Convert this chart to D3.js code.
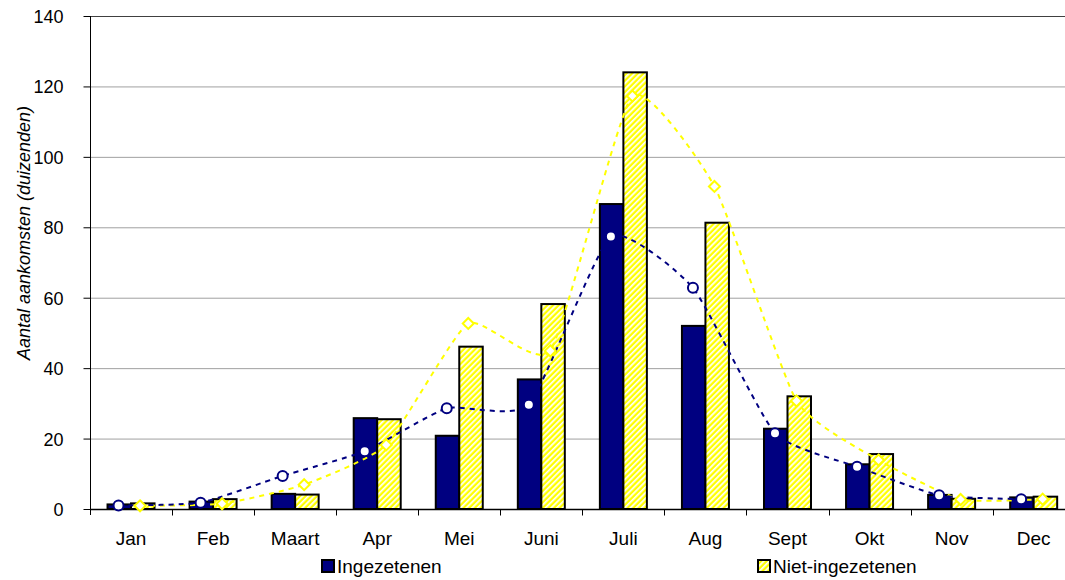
<!DOCTYPE html>
<html><head><meta charset="utf-8">
<script src="https://cdn.jsdelivr.net/npm/d3@7"></script>
<style>
html,body{margin:0;padding:0;background:#fff;}
svg{display:block;font-family:"Liberation Sans",Arial,sans-serif;}
</style></head>
<body>
<svg id="c" width="1065" height="580"></svg>
<script>
const months = ["Jan","Feb","Maart","Apr","Mei","Juni","Juli","Aug","Sept","Okt","Nov","Dec"];
const ingezetenenBars = [1.3,2.1,4.3,25.8,20.8,36.8,86.6,52.0,22.8,12.7,4.0,3.3];
const nietIngezetenenBars = [1.6,2.8,4.1,25.5,46.1,58.2,124.0,81.3,32.0,15.6,2.9,3.5];
const ingezetenenLine = [1.0,1.8,9.4,16.4,28.6,29.6,77.4,62.8,21.5,12.0,3.9,2.8];
const nietIngezetenenLine = [0.9,1.5,6.9,18.2,52.7,44.9,117.3,91.6,30.7,13.9,2.7,2.8];
const yTicks = [0,20,40,60,80,100,120,140];
const seriesNames = ["Ingezetenen","Niet-ingezetenen"];

(function(){
const navy = "#000080", yellow = "#FFFF00";
const svg = d3.select("#c");
const pLeft = 90, pRight = 1074.7, pTop = 16, pBottom = 509;

const x = d3.scaleBand().domain(months).range([pLeft, pRight]).padding(0);
const y = d3.scaleLinear().domain([0,140]).range([pBottom, pTop]);

const defs = svg.append("defs");
const pat = defs.append("pattern").attr("id","hatch").attr("patternUnits","userSpaceOnUse")
  .attr("width",4).attr("height",4).attr("patternTransform","rotate(45)");
pat.append("rect").attr("width",4).attr("height",4).attr("fill",yellow);
pat.append("rect").attr("x",0).attr("width",1.7).attr("height",4).attr("fill","#fff");

svg.append("g").selectAll("line").data(yTicks.filter(d=>d>0)).join("line")
  .attr("x1",pLeft).attr("x2",1065).attr("y1",d=>y(d)+0.5).attr("y2",d=>y(d)+0.5)
  .attr("stroke",d=>d===140?"#404040":"#a0a0a0").attr("stroke-width",1);

const bw = 23.5;
const cx = m => x(m) + x.bandwidth()/2;
svg.append("g").selectAll("rect").data(months).join("rect")
  .attr("x",m=>cx(m)-bw).attr("width",bw)
  .attr("y",(m,i)=>y(ingezetenenBars[i])).attr("height",(m,i)=>pBottom-y(ingezetenenBars[i]))
  .attr("fill",navy).attr("stroke","#000").attr("stroke-width",2);
svg.append("g").selectAll("rect").data(months).join("rect")
  .attr("x",m=>cx(m)).attr("width",bw)
  .attr("y",(m,i)=>y(nietIngezetenenBars[i])).attr("height",(m,i)=>pBottom-y(nietIngezetenenBars[i]))
  .attr("fill","url(#hatch)").attr("stroke","#000").attr("stroke-width",2);

const yAxis = d3.axisLeft(y).tickValues(yTicks).tickSize(7).tickPadding(20).tickFormat(d3.format("d"));
const gy = svg.append("g").attr("transform",`translate(${pLeft+0.5},0)`).call(yAxis);
gy.select(".domain").attr("stroke","#000").attr("d",`M0,${pTop}V${pBottom+6}`);
gy.selectAll(".tick line").attr("stroke","#000");
gy.selectAll(".tick text").attr("font-size",18).attr("fill","#000").attr("font-family","Liberation Sans, Arial, sans-serif")
  .attr("x",-27).attr("dy","0.36em");

const gx = svg.append("g").attr("transform",`translate(0,${pBottom+0.5})`);
gx.append("line").attr("x1",pLeft).attr("x2",1065).attr("y1",0).attr("y2",0).attr("stroke","#000").attr("stroke-width",1.5);
gx.selectAll("line.t").data(months.slice(1)).join("line").attr("class","t")
  .attr("x1",m=>Math.round(x(m))+0.5).attr("x2",m=>Math.round(x(m))+0.5).attr("y1",0).attr("y2",6).attr("stroke","#000");
gx.selectAll("text").data(months).join("text")
  .attr("x",cx).attr("y",35.5).attr("text-anchor","middle").attr("font-size",19).attr("fill","#000").text(d=>d);

svg.append("text").attr("transform","translate(30,233) rotate(-90)").attr("text-anchor","middle")
  .attr("font-size",18).attr("font-style","italic").attr("fill","#000").text("Aantal aankomsten (duizenden)");

const curve = d3.curveCardinal.tension(0.5);
const navyOff = -12.5, yelOff = 9;
const lineN = d3.line().x((d,i)=>cx(months[i])+navyOff).y(d=>y(d)).curve(curve);
const lineY = d3.line().x((d,i)=>cx(months[i])+yelOff).y(d=>y(d)).curve(curve);
svg.append("path").attr("d",lineY(nietIngezetenenLine)).attr("fill","none").attr("stroke",yellow)
  .attr("stroke-width",2).attr("stroke-dasharray","5,5");
svg.append("path").attr("d",lineN(ingezetenenLine)).attr("fill","none").attr("stroke",navy)
  .attr("stroke-width",2).attr("stroke-dasharray","5,5");

svg.append("g").selectAll("circle").data(ingezetenenLine).join("circle")
  .attr("cx",(d,i)=>cx(months[i])+navyOff).attr("cy",d=>y(d)).attr("r",5)
  .attr("fill","#fff").attr("stroke",navy).attr("stroke-width",2);
const dia = "M0,-5.5L5.5,0L0,5.5L-5.5,0Z";
svg.append("g").selectAll("path").data(nietIngezetenenLine).join("path")
  .attr("d",dia).attr("transform",(d,i)=>`translate(${cx(months[i])+yelOff},${y(d)})`)
  .attr("fill","#fff").attr("stroke",yellow).attr("stroke-width",2);

const leg = [{x:321, fill:navy, name:seriesNames[0]},{x:757, fill:"url(#hatch)", name:seriesNames[1]}];
const lg = svg.append("g");
lg.selectAll("rect").data(leg).join("rect").attr("x",d=>d.x+1).attr("y",560).attr("width",12).attr("height",12)
  .attr("fill",d=>d.fill).attr("stroke","#000").attr("stroke-width",2);
lg.selectAll("text").data(leg).join("text").attr("x",d=>d.x+16).attr("y",573).attr("font-size",19)
  .attr("fill","#000").text(d=>d.name);
})();
</script>
</body></html>
